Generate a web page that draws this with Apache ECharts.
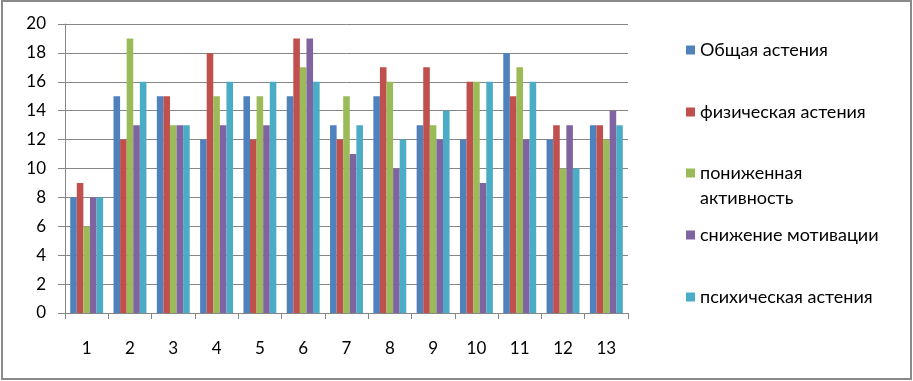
<!DOCTYPE html>
<html>
<head>
<meta charset="utf-8">
<script src="https://cdn.jsdelivr.net/npm/echarts@6/dist/echarts.min.js"></script>
<style>
html,body{margin:0;padding:0;background:#fff;}
#chart{position:absolute;left:0;top:0;width:913px;height:381px;}
#frame{position:absolute;left:1px;top:0;width:911px;height:380px;box-sizing:border-box;border:2px solid #8a8a8a;pointer-events:none;}
</style>
</head>
<body>
<div id="chart"></div>
<div id="frame"></div>
<script>
const categories = ['1','2','3','4','5','6','7','8','9','10','11','12','13'];
const seriesNames = ['Общая астения','физическая астения','пониженная активность','снижение мотивации','психическая астения'];
const obshaya    = [8,15,15,12,15,15,13,15,13,12,18,12,13];
const fizich     = [9,12,15,18,12,19,12,17,17,16,15,13,13];
const ponizh     = [6,19,13,15,15,17,15,16,13,16,17,10,12];
const snizh      = [8,13,13,13,13,19,11,10,12,9,12,13,14];
const psihich    = [8,16,13,16,16,16,13,12,14,16,16,10,13];
const yTicks = [0,2,4,6,8,10,12,14,16,18,20];

const values = [obshaya, fizich, ponizh, snizh, psihich];
const colors = ['#4F81BD','#C0504D','#9BBB59','#8064A2','#4BACC6'];
const FONT = 'Lato, "Open Sans", sans-serif';
const legendCenters = [50, 112, 173, 235, 297];

const chart = echarts.init(document.getElementById('chart'), null, {renderer:'canvas'});

const legends = seriesNames.map((n, i) => {
  const twoLine = i === 2;
  const lh = twoLine ? 25 : 22;
  return {
    data: [n],
    orient: 'vertical',
    left: 686,
    top: twoLine ? legendCenters[i] - 1.5 * lh : legendCenters[i] - lh / 2,
    padding: 0,
    itemWidth: 9,
    itemHeight: 9,
    itemGap: 0,
    icon: 'rect',
    selectedMode: false,
    formatter: twoLine ? () => ' \nпониженная\nактивность' : undefined,
    textStyle: {
      fontFamily: FONT,
      fontSize: 18,
      color: '#000',
      lineHeight: lh
    }
  };
});

chart.setOption({
  animation: false,
  color: colors,
  grid: {left: 65, right: 285, top: 24, bottom: 68, containLabel: false},
  legend: legends,
  xAxis: {
    type: 'category',
    data: categories,
    boundaryGap: true,
    axisLine: {lineStyle: {color: '#868686', width: 1}},
    axisTick: {show: true, length: 6, lineStyle: {color: '#868686'}},
    axisLabel: {fontFamily: FONT, fontSize: 17, color: '#000', margin: 27},
    splitLine: {show: false}
  },
  yAxis: {
    type: 'value',
    min: yTicks[0],
    max: yTicks[yTicks.length - 1],
    interval: yTicks[1] - yTicks[0],
    axisLine: {show: true, lineStyle: {color: '#868686', width: 1}},
    axisTick: {show: true, length: 7, lineStyle: {color: '#868686'}},
    axisLabel: {fontFamily: FONT, fontSize: 17, color: '#000', margin: 19},
    splitLine: {show: true, lineStyle: {color: '#868686', width: 1}}
  },
  series: seriesNames.map((n, i) => ({
    name: n,
    type: 'bar',
    data: values[i],
    barGap: '0%',
    barCategoryGap: '24%',
    itemStyle: {color: colors[i]}
  }))
});
</script>
</body>
</html>
